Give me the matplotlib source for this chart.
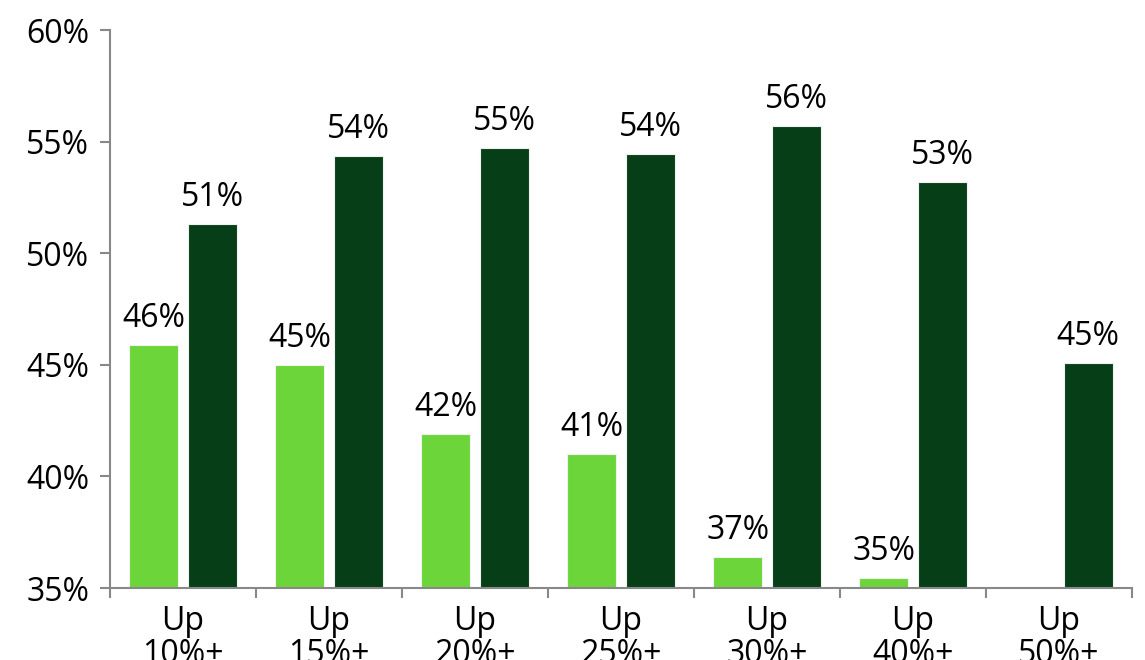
import matplotlib
matplotlib.use("Agg")
import matplotlib.pyplot as plt
import numpy as np

categories = ["Up\n10%+", "Up\n15%+", "Up\n20%+", "Up\n25%+", "Up\n30%+", "Up\n40%+", "Up\n50%+"]
light_vals = [45.9, 45.0, 41.9, 41.0, 36.4, 35.45, 35.05]
dark_vals = [51.3, 54.35, 54.7, 54.45, 55.7, 53.2, 45.1]
light_labels = ["46%", "45%", "42%", "41%", "37%", "35%", ""]
dark_labels = ["51%", "54%", "55%", "54%", "56%", "53%", "45%"]

plt.rcParams["font.family"] = ["Open Sans", "DejaVu Sans"]

fig = plt.figure(figsize=(11.45, 6.6), dpi=100)
ax = fig.add_axes([0.0961, 0.109, 0.8925, 0.8455])

x = np.arange(len(categories))
w = 0.335
base = 35
light_c = "#6CD53A"
dark_c = "#063F17"

ax.bar(x - 0.2, np.array(light_vals) - base, w, bottom=base, color=light_c,
       edgecolor="#f0f0f0", linewidth=0.8)
ax.bar(x + 0.2, np.array(dark_vals) - base, w, bottom=base, color=dark_c,
       edgecolor="#f0f0f0", linewidth=0.8)

fs = 23
for i in range(len(categories)):
    if light_labels[i]:
        ax.text(x[i] - 0.2, light_vals[i] + 0.45, light_labels[i], ha="center",
                va="bottom", fontsize=fs)
    ax.text(x[i] + 0.2, dark_vals[i] + 0.45, dark_labels[i], ha="center",
            va="bottom", fontsize=fs)

ax.set_xlim(-0.5, len(categories) - 0.5)
ax.set_ylim(35, 60)
ax.set_yticks(np.arange(35, 61, 5))
ax.set_yticklabels([f"{v}%" for v in range(35, 61, 5)], fontsize=fs)

ax.set_xticks(x)
ax.set_xticklabels(categories, fontsize=fs, linespacing=1.0)
ax.set_xticks(np.arange(len(categories) + 1) - 0.5, minor=True)
ax.tick_params(axis="x", which="major", length=0, pad=12)
ax.tick_params(axis="x", which="minor", length=7, color="#888888", width=1.5)
ax.tick_params(axis="y", length=7, color="#888888", width=1.5, pad=8)

for s in ["top", "right"]:
    ax.spines[s].set_visible(False)
for s in ["left", "bottom"]:
    ax.spines[s].set_color("#888888")
    ax.spines[s].set_linewidth(1.5)

fig.savefig("out.png", dpi=100)
